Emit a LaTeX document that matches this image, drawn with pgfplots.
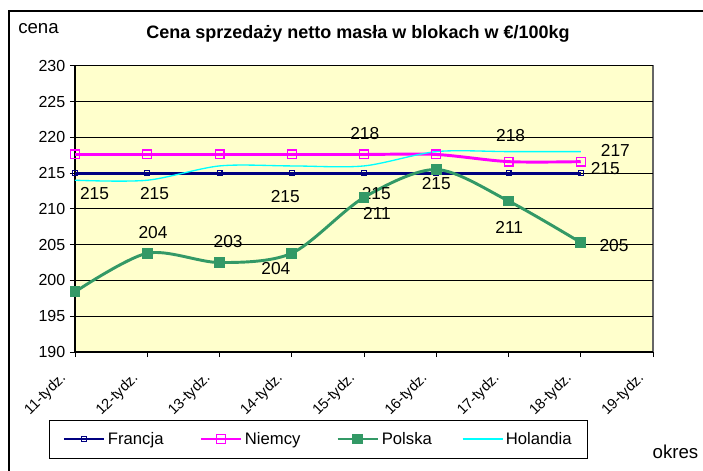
\documentclass[border=0pt]{standalone}
\usepackage{pgfplots}
\pgfplotsset{compat=1.18}
\usepackage{fontspec}
\setmainfont{Liberation Sans}
\definecolor{fr}{HTML}{000080}
\definecolor{de}{HTML}{FF00FF}
\definecolor{pl}{HTML}{339966}
\definecolor{nl}{HTML}{00FFFF}
\definecolor{bg}{HTML}{FFFFCC}
\newcommand{\lab}{\fontsize{13}{15}\selectfont}
\begin{document}
\begin{tikzpicture}[x=0.75pt,y=0.75pt]
\path[use as bounding box] (0,0) rectangle (703,471);
\draw[line width=1.2pt] (9,0) -- (9,460) -- (703,460);
\node[font=\bfseries\fontsize{13.5}{15}\selectfont] at (358,437) {Cena sprzedaży netto masła w blokach w €/100kg};
\node[font=\fontsize{14}{16}\selectfont] at (38.5,442) {cena};
\node[font=\fontsize{14}{16}\selectfont] at (675.5,19) {okres};
\begin{axis}[
  at={(56.25pt,89.25pt)}, anchor=south west,
  scale only axis, width=433.5pt, height=214.7pt,
  xmin=0, xmax=8, ymin=190, ymax=230,
  xtick={0,...,8},
  xticklabels={11-tydz.,12-tydz.,13-tydz.,14-tydz.,15-tydz.,16-tydz.,17-tydz.,18-tydz.,19-tydz.},
  ytick={190,195,...,230},
  axis lines*=left,
  axis line style={black, line width=0.8pt, -},
  axis background/.style={fill=bg, draw=gray!80!black, line width=0.8pt},
  ymajorgrids, grid style={black, line width=0.6pt},
  tick align=outside, major tick length=3.75pt, tick style={black, line width=0.6pt},
  /pgf/number format/assume math mode=true,
  tick label style={font=\fontsize{12}{14}\selectfont},
  xticklabel style={font=\fontsize{11}{13}\selectfont, xshift=-6pt, yshift=-12pt, rotate=45, anchor=east},
  legend style={at={(0.421,-0.304)}, anchor=center, legend columns=4, draw=black, line width=0.6pt,
    font=\fontsize{12.5}{14}\selectfont, inner xsep=10pt, inner ysep=7pt,
    /tikz/every even column/.append style={column sep=2pt}},
  legend image code/.code={\draw[mark repeat=2,mark phase=2] plot coordinates {(0pt,0pt) (15pt,0pt) (30pt,0pt)};},
  clip=false,
]
\addplot[fr, line width=2.2pt, mark=square, mark size=1.8pt, mark options={line width=0.9pt, solid}]
coordinates {(0,215) (1,215) (2,215) (3,215) (4,215) (5,215) (6,215) (7,215)};
\addlegendentry{\makebox[64.5pt][l]{Francja}}
\addplot[de, line width=2.2pt, smooth, tension=0.5, mark=square, mark size=3.3pt, mark options={line width=0.9pt}]
coordinates {(0,217.6) (1,217.6) (2,217.6) (3,217.6) (4,217.6) (5,217.6) (6,216.6) (7,216.6)};
\addlegendentry{\makebox[64.5pt][l]{Niemcy}}
\addplot[pl, line width=2.2pt, smooth, tension=0.5, mark=square*, mark size=3pt]
coordinates {(0,198.4) (1,203.8) (2,202.5) (3,203.8) (4,211.6) (5,215.5) (6,211.1) (7,205.3)};
\addlegendentry{\makebox[56pt][l]{Polska}}
\addplot[nl, line width=1pt, smooth, tension=0.5]
coordinates {(0,214) (1,214) (2,216) (3,216) (4,216) (5,218) (6,218) (7,218)};
\addlegendentry{Holandia}
\node[font=\lab] at (axis cs:0.27,212.1) {215};
\node[font=\lab] at (axis cs:1.10,212.2) {215};
\node[font=\lab] at (axis cs:2.91,211.7) {215};
\node[font=\lab] at (axis cs:1.08,206.7) {204};
\node[font=\lab] at (axis cs:2.12,205.5) {203};
\node[font=\lab] at (axis cs:2.78,201.7) {204};
\node[font=\lab] at (axis cs:4.01,220.5) {218};
\node[font=\lab] at (axis cs:4.17,212.2) {215};
\node[font=\lab] at (axis cs:4.18,209.4) {211};
\node[font=\lab] at (axis cs:5.00,213.6) {215};
\node[font=\lab] at (axis cs:6.03,220.2) {218};
\node[font=\lab] at (axis cs:7.48,218.2) {217};
\node[font=\lab] at (axis cs:7.34,215.7) {215};
\node[font=\lab] at (axis cs:6.01,207.4) {211};
\node[font=\lab] at (axis cs:7.46,204.9) {205};
\end{axis}
\end{tikzpicture}
\end{document}
